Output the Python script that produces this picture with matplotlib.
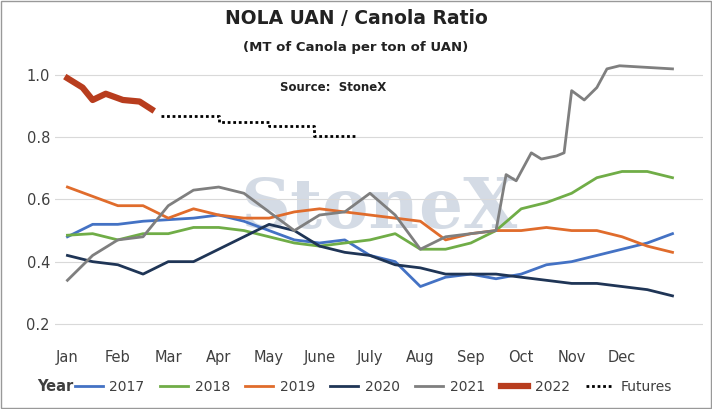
import numpy as np
import matplotlib.pyplot as plt

months = ['Jan', 'Feb', 'Mar', 'Apr', 'May', 'June', 'July', 'Aug', 'Sep', 'Oct', 'Nov', 'Dec']
x_half = np.arange(0, 12.01, 0.5)

y2017 = [0.48, 0.52, 0.52, 0.53, 0.535, 0.54, 0.55, 0.53, 0.50, 0.47, 0.46, 0.47, 0.42,
         0.40, 0.32, 0.35, 0.36, 0.345, 0.36, 0.39, 0.40, 0.42, 0.44, 0.46, 0.49]
y2018 = [0.485, 0.49, 0.47, 0.49, 0.49, 0.51, 0.51, 0.50, 0.48, 0.46, 0.45, 0.46, 0.47,
         0.49, 0.44, 0.44, 0.46, 0.50, 0.57, 0.59, 0.62, 0.67, 0.69, 0.69, 0.67]
y2019 = [0.64, 0.61, 0.58, 0.58, 0.54, 0.57, 0.55, 0.54, 0.54, 0.56, 0.57, 0.56, 0.55,
         0.54, 0.53, 0.47, 0.49, 0.50, 0.50, 0.51, 0.50, 0.50, 0.48, 0.45, 0.43]
y2020 = [0.42, 0.40, 0.39, 0.36, 0.40, 0.40, 0.44, 0.48, 0.52, 0.50, 0.45, 0.43, 0.42,
         0.39, 0.38, 0.36, 0.36, 0.36, 0.35, 0.34, 0.33, 0.33, 0.32, 0.31, 0.29]
x2021 = [0, 0.5, 1, 1.5, 2, 2.5, 3, 3.5, 4, 4.5, 5, 5.5, 6, 6.5, 7, 7.5, 8, 8.5,
         8.7, 8.9, 9.2, 9.4, 9.7, 9.85, 10.0, 10.25, 10.5, 10.7, 10.95, 12]
y2021 = [0.34, 0.42, 0.47, 0.48, 0.58, 0.63, 0.64, 0.62, 0.56, 0.50, 0.55, 0.56, 0.62,
         0.55, 0.44, 0.48, 0.49, 0.50, 0.68, 0.66, 0.75, 0.73, 0.74, 0.75, 0.95, 0.92,
         0.96, 1.02, 1.03, 1.02]
x2022 = [0, 0.3, 0.5, 0.76, 1.1, 1.43, 1.67]
y2022 = [0.99, 0.96, 0.92, 0.94, 0.92, 0.915, 0.89]
xfut = [1.86, 3.0, 3.0, 4.0, 4.0, 4.9, 4.9, 5.7]
yfut = [0.87, 0.87, 0.85, 0.85, 0.835, 0.835, 0.805, 0.805]

fig = plt.figure(figsize=(7.12, 4.09), dpi=100)
ax = fig.add_axes([0.077, 0.155, 0.91, 0.745])
fig.patches.append(plt.Rectangle((0.002, 0.002), 0.996, 0.996, transform=fig.transFigure,
                                 fill=False, edgecolor='#999999', lw=1))

ax.text(0.5, 0.45, 'StoneX', transform=ax.transAxes, fontsize=50, family='serif',
        fontweight='bold', color='#b8c4d4', alpha=0.6, ha='center', va='center', zorder=0)

ax.plot(x_half, y2017, color='#4472c4', lw=2, label='2017')
ax.plot(x_half, y2018, color='#70ad47', lw=2, label='2018')
ax.plot(x_half, y2019, color='#e06c2c', lw=2, label='2019')
ax.plot(x_half, y2020, color='#1f3556', lw=2, label='2020')
ax.plot(x2021, y2021, color='#7f7f7f', lw=2, label='2021')
ax.plot(x2022, y2022, color='#b83d1e', lw=4.5, label='2022')
ax.plot(xfut, yfut, color='black', lw=2, ls=(0, (1, 1)), label='Futures')

ax.set_xlim(-0.25, 12.6)
ax.set_ylim(0.13, 1.11)
ax.set_yticks([0.2, 0.4, 0.6, 0.8, 1.0])
ax.set_yticklabels(['0.2', '0.4', '0.6', '0.8', '1.0'])
ax.set_xticks(range(12))
ax.set_xticklabels(months)
ax.tick_params(length=0, labelsize=10.5, colors='#404040')
ax.grid(axis='y', color='#d9d9d9', lw=0.8)
ax.set_axisbelow(True)
for s in ax.spines.values():
    s.set_visible(False)

fig.text(0.5, 0.955, 'NOLA UAN / Canola Ratio', ha='center', va='center',
         fontsize=13.5, fontweight='bold', color='#222222')
fig.text(0.5, 0.885, '(MT of Canola per ton of UAN)', ha='center', va='center',
         fontsize=9.5, fontweight='bold', color='#222222')
ax.text(0.43, 0.835, 'Source:  StoneX', transform=ax.transAxes, ha='center',
        fontsize=8.5, fontweight='bold', color='#222222')

fig.text(0.052, 0.055, 'Year', fontsize=10.5, fontweight='bold', color='#404040', va='center')
fig.legend(loc='center left', bbox_to_anchor=(0.105, 0.055), ncol=7, frameon=False,
           fontsize=10, handlelength=2.0, handletextpad=0.5, columnspacing=1.1,
           labelcolor='#404040', borderaxespad=0, borderpad=0)

fig.savefig('out.png', dpi=100)
